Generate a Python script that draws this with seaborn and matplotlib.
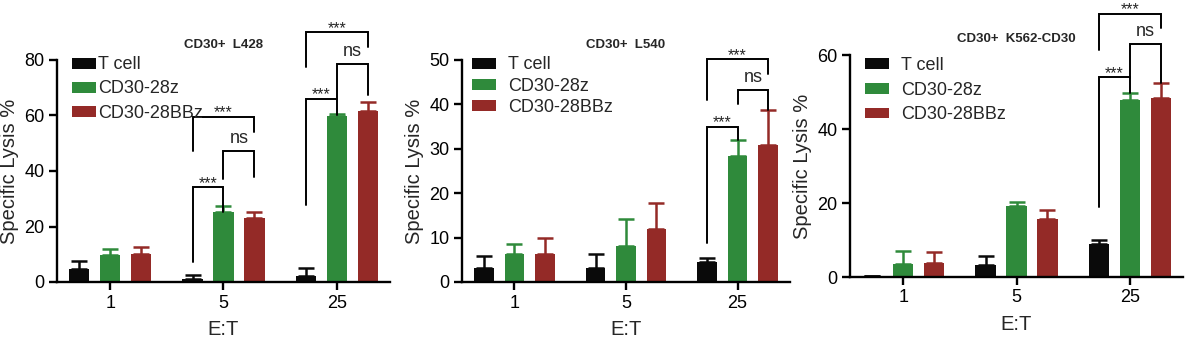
import numpy as np
import pandas as pd
import matplotlib
matplotlib.use("Agg")
import matplotlib.pyplot as plt
import seaborn as sns

# ---------------- data ----------------
groups = ["T cell", "CD30-28z", "CD30-28BBz"]
et_ratios = ["1", "5", "25"]
colors = ["#0a0a0a", "#2f8a3b", "#942a27"]

titles = ["CD30+  L428", "CD30+  L540", "CD30+  K562-CD30"]

l428_tcell = [4.8, 1.1, 2.0]
l428_28z = [9.9, 25.3, 59.9]
l428_28bbz = [10.2, 23.1, 61.6]
l428_tcell_sd = [2.7, 1.5, 2.9]
l428_28z_sd = [2.1, 2.1, 0.7]
l428_28bbz_sd = [2.4, 2.1, 3.1]

l540_tcell = [3.2, 3.2, 4.5]
l540_28z = [6.4, 8.1, 28.3]
l540_28bbz = [6.4, 12.0, 30.8]
l540_tcell_sd = [2.6, 3.2, 0.9]
l540_28z_sd = [2.1, 6.0, 3.7]
l540_28bbz_sd = [3.5, 5.8, 7.9]

k562_tcell = [0.4, 3.3, 8.8]
k562_28z = [3.6, 19.1, 47.8]
k562_28bbz = [3.9, 15.8, 48.5]
k562_tcell_sd = [0.0, 2.3, 1.1]
k562_28z_sd = [3.4, 1.1, 2.0]
k562_28bbz_sd = [2.9, 2.4, 3.8]

panel_means = [
    [l428_tcell, l428_28z, l428_28bbz],
    [l540_tcell, l540_28z, l540_28bbz],
    [k562_tcell, k562_28z, k562_28bbz],
]
panel_sds = [
    [l428_tcell_sd, l428_28z_sd, l428_28bbz_sd],
    [l540_tcell_sd, l540_28z_sd, l540_28bbz_sd],
    [k562_tcell_sd, k562_28z_sd, k562_28bbz_sd],
]
y_max = [80, 50, 60]
y_step = [20, 10, 20]

# significance brackets: (category index, bar i, bar j, top, left leg bottom, right leg bottom, label)
l428_brackets = [
    (1, 0, 1, 34.1, 7.2, 25.3, "***"),
    (1, 1, 2, 47.3, 37.0, 37.9, "ns"),
    (1, 0, 2, 59.6, 47.2, 54.2, "***"),
    (2, 0, 1, 66.0, 27.7, 60.2, "***"),
    (2, 1, 2, 78.5, 66.4, 67.4, "ns"),
    (2, 0, 2, 90.0, 77.6, 84.8, "***"),
]
l540_brackets = [
    (2, 0, 1, 35.0, 8.8, 32.0, "***"),
    (2, 1, 2, 43.2, 40.1, 38.7, "ns"),
    (2, 0, 2, 50.2, 41.0, 46.8, "***"),
]
k562_brackets = [
    (2, 0, 1, 54.0, 18.8, 49.6, "***"),
    (2, 1, 2, 62.9, 53.7, 52.5, "ns"),
    (2, 0, 2, 71.1, 61.4, 67.2, "***"),
]
panel_brackets = [l428_brackets, l540_brackets, k562_brackets]

# ---------------- style ----------------
sns.set_theme(style="ticks")
plt.rcParams["font.family"] = ["Liberation Sans", "DejaVu Sans"]

W, H = 1198, 339
fig = plt.figure(figsize=(W / 100, H / 100), dpi=100)

# axes rectangles in pixels: left, top, right, bottom
axes_px = [
    (57, 60, 390, 282),
    (462, 60, 790, 282),
    (850, 55, 1183, 277),
]
legend_cfg = [
    dict(x=0.045, y=1.016, pad=0.1, spacing=0.39),
    dict(x=0.03, y=1.016, pad=0.65, spacing=0.24),
    dict(x=0.045, y=0.99, pad=0.65, spacing=0.42),
]

for p in range(3):
    l, t, r, b = axes_px[p]
    ax = fig.add_axes([l / W, 1 - b / H, (r - l) / W, (b - t) / H])

    rows = []
    for gi, g in enumerate(groups):
        for ci, c in enumerate(et_ratios):
            rows.append({"E:T": c, "group": g, "lysis": panel_means[p][gi][ci]})
    df = pd.DataFrame(rows)

    sns.barplot(data=df, x="E:T", y="lysis", hue="group", order=et_ratios,
                hue_order=groups, palette=colors, saturation=1, width=0.82,
                gap=0.35, errorbar=None, ax=ax, linewidth=0)

    bar_conts = list(ax.containers)
    centers = []
    for gi, cont in enumerate(bar_conts):
        xs = [bar.get_x() + bar.get_width() / 2 for bar in cont]
        hs = [bar.get_height() for bar in cont]
        centers.append(xs)
        sd = panel_sds[p][gi]
        ax.errorbar(xs, hs, yerr=[np.zeros(len(sd)), sd], fmt="none",
                    ecolor=colors[gi], elinewidth=1.8, capsize=5.5,
                    capthick=1.8, zorder=1)

    # brackets
    for (ci, i, j, top, lb, rb, lab) in panel_brackets[p]:
        x1 = centers[i][ci]
        x2 = centers[j][ci]
        ax.plot([x1, x1, x2, x2], [lb, top, top, rb], color="black",
                lw=1.4, clip_on=False, solid_joinstyle="miter", zorder=5)
        if lab == "ns":
            ax.annotate(lab, xy=((x1 + x2) / 2, top), xytext=(0, 3),
                        textcoords="offset points", ha="center", va="bottom",
                        fontsize=13, annotation_clip=False)
        else:
            ax.annotate(lab, xy=((x1 + x2) / 2, top), xytext=(0, -0.5),
                        textcoords="offset points", ha="center",
                        va="baseline", fontsize=11.5, annotation_clip=False)

    ax.set_xlim(-0.47, 2.47)
    ax.set_ylim(0, y_max[p])
    ax.set_yticks(np.arange(0, y_max[p] + 1, y_step[p]))
    sns.despine(ax=ax)
    for s in ["left", "bottom"]:
        ax.spines[s].set_linewidth(1.7)
        ax.spines[s].set_color("black")
    ax.tick_params(axis="both", direction="out", length=6, width=1.7,
                   labelsize=13, colors="black", pad=3)
    ax.set_xlabel("E:T", fontsize=14.5, labelpad=6)
    ax.set_ylabel("Specific Lysis %", fontsize=14.5, labelpad=4)
    ax.set_title(titles[p], fontsize=9.5, fontweight="bold", pad=9)

    cfg = legend_cfg[p]
    handles, labels = ax.get_legend_handles_labels()
    ax.legend(handles, labels, loc="upper left",
              bbox_to_anchor=(cfg["x"], cfg["y"]), frameon=False,
              fontsize=13, handlelength=1.35, handleheight=0.55,
              handletextpad=cfg["pad"], labelspacing=cfg["spacing"],
              borderpad=0, borderaxespad=0)

fig.savefig("out.png", dpi=100)
